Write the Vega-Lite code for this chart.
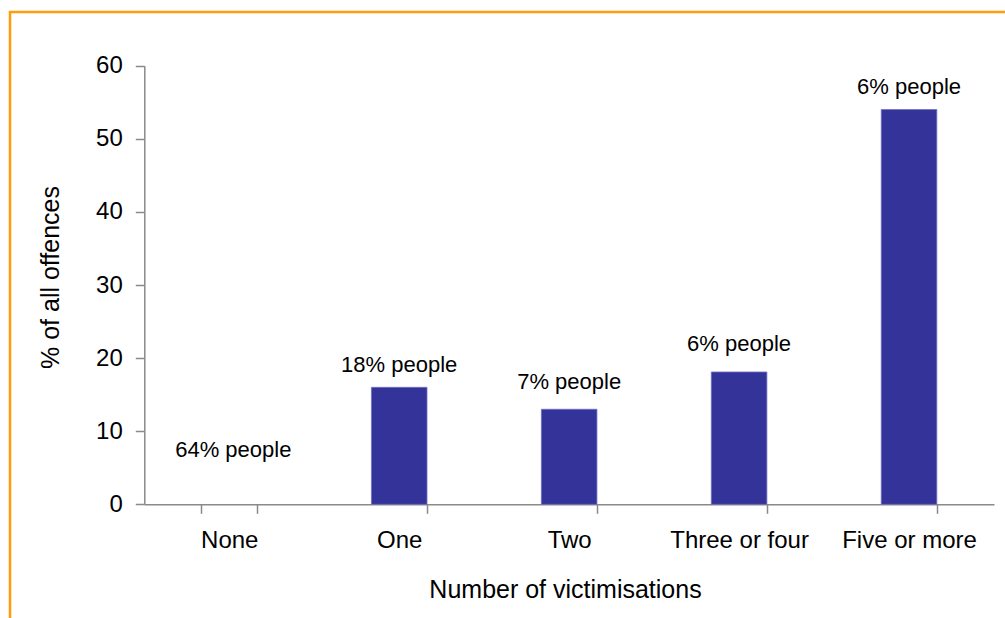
{
  "$schema": "https://vega.github.io/schema/vega-lite/v6.json",
  "autosize": {"type": "none"},
  "padding": {"left": 10, "top": 12, "right": 0, "bottom": 0},
  "width": 1000,
  "height": 620,
  "background": "white",
  "config": {
    "view": {"stroke": "#ff9d0a", "strokeWidth": 2.5},
    "font": "Liberation Sans",
    "axis": {"labelFont": "Liberation Sans", "titleFont": "Liberation Sans", "labelColor": "black", "titleColor": "black", "titleFontWeight": "normal", "domainColor": "#8a8a8a", "tickColor": "#8a8a8a", "domainWidth": 1.5, "tickWidth": 1.5, "grid": false}
  },
  "data": {
    "values": [
      {"victimisations": "None", "offences": 0, "people": "64% people", "grp": "none"},
      {"victimisations": "One", "offences": 16, "people": "18% people", "grp": "a"},
      {"victimisations": "Two", "offences": 13, "people": "7% people", "grp": "b"},
      {"victimisations": "Three or four", "offences": 18.1, "people": "6% people", "grp": "b"},
      {"victimisations": "Five or more", "offences": 54, "people": "6% people", "grp": "a"}
    ]
  },
  "encoding": {
    "x": {
      "field": "victimisations",
      "type": "nominal",
      "sort": ["None", "One", "Two", "Three or four", "Five or more"],
      "scale": {"range": [134.3, 984], "paddingInner": 0.673, "paddingOuter": 0.3365},
      "axis": {
        "title": "Number of victimisations",
        "titleFontSize": 25,
        "titleBaseline": "alphabetic",
        "titleY": 93,
        "titleX": 555,
        "labelFontSize": 24,
        "labelAngle": 0,
        "labelPadding": 15,
        "tickSize": 9,
        "tickBand": "extent",
        "offset": -127.7
      }
    },
    "y": {
      "field": "offences",
      "type": "quantitative",
      "scale": {"domain": [0, 60], "range": [492.3, 53.7], "nice": false},
      "axis": {
        "title": "% of all offences",
        "titleFontSize": 25,
        "titleAngle": -90,
        "titleBaseline": "middle",
        "titleAlign": "center",
        "titleX": -94,
        "titleY": 265,
        "values": [0, 10, 20, 30, 40, 50, 60],
        "labelFontSize": 24,
        "labelPadding": 13,
        "tickSize": 9,
        "offset": -134.3
      }
    }
  },
  "layer": [
    {
      "transform": [{"filter": "datum.offences > 0"}],
      "mark": {"type": "bar", "color": "#333399", "stroke": "#6f6fc4", "strokeWidth": 0.8}
    },
    {
      "transform": [{"filter": "datum.grp === 'a'"}],
      "mark": {"type": "text", "fontSize": 22, "baseline": "alphabetic", "dy": -15.5, "color": "black"},
      "encoding": {"text": {"field": "people"}}
    },
    {
      "transform": [{"filter": "datum.grp === 'b'"}],
      "mark": {"type": "text", "fontSize": 22, "baseline": "alphabetic", "dy": -20.5, "color": "black"},
      "encoding": {"text": {"field": "people"}}
    },
    {
      "transform": [{"filter": "datum.grp === 'none'"}],
      "mark": {"type": "text", "fontSize": 22, "baseline": "alphabetic", "dy": -47.5, "dx": 4, "color": "black"},
      "encoding": {"text": {"field": "people"}}
    }
  ]
}
